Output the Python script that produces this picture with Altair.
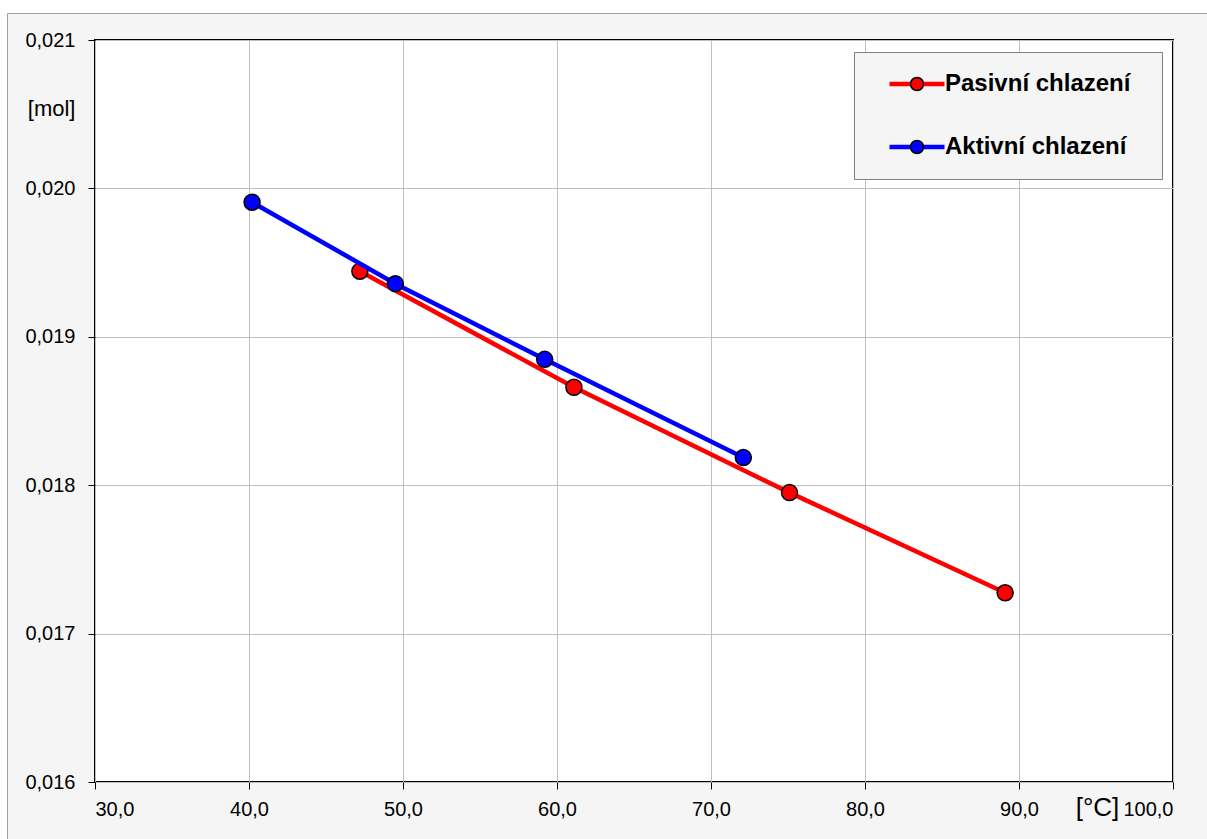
import altair as alt
import pandas as pd

# ---- data ----
series_names = ["Pasivní chlazení", "Aktivní chlazení"]
series_keys = ["p", "a"]
series_colors = ["#ff0000", "#0000ff"]

temp_pasivni = [47.2, 61.1, 75.1, 89.1]
mol_pasivni = [0.019442, 0.018660, 0.017950, 0.017275]

temp_aktivni = [40.2, 49.5, 59.2, 72.1]
mol_aktivni = [0.019907, 0.019358, 0.018848, 0.018186]

x_ticks = [30, 40, 50, 60, 70, 80, 90, 100]
y_ticks = [0.016, 0.017, 0.018, 0.019, 0.020, 0.021]

rows = []
for t, m in zip(temp_pasivni, mol_pasivni):
    rows.append({"t": t, "m": m, "series": series_names[0], "key": series_keys[0]})
for t, m in zip(temp_aktivni, mol_aktivni):
    rows.append({"t": t, "m": m, "series": series_names[1], "key": series_keys[1]})
df = pd.DataFrame(rows)

FONT = "Liberation Sans, Arial, sans-serif"
W, H = 1078, 742

x_enc = alt.X(
    "t:Q",
    scale=alt.Scale(domain=[30, 100], nice=False, zero=False),
    axis=alt.Axis(
        values=x_ticks,
        labelExpr="replace(format(datum.value, '.1f'), '.', ',')",
        title="[°C]",
        titleX=1002,
        titleY=33.5,
        titleAlign="center",
        titleBaseline="alphabetic",
        titleFontSize=26,
        titleFontWeight="normal",
        titleColor="black",
        titleFont=FONT,
        labelPadding=10,
    ),
)
y_enc = alt.Y(
    "m:Q",
    scale=alt.Scale(domain=[0.016, 0.021], nice=False, zero=False),
    axis=alt.Axis(
        values=y_ticks,
        labelExpr="replace(format(datum.value, '.3f'), '.', ',')",
        title="[mol]",
        titleAngle=0,
        titleX=-20,
        titleY=75.5,
        titleAlign="right",
        titleBaseline="alphabetic",
        titleFontSize=22,
        titleFontWeight="normal",
        titleColor="black",
        titleFont=FONT,
        labelPadding=13,
    ),
)

legend_common = dict(
    orient="none",
    legendX=759,
    legendY=12,
    symbolSize=169,
    labelFontSize=24,
    labelFontWeight="bold",
    labelFont=FONT,
    labelColor="black",
    labelLimit=400,
    padding=20,
    symbolOffset=31,
    rowPadding=39,
)

# long horizontal stroke symbol (unit path scaled by the symbol size);
# a blank right-hand title only widens the legend box a little
line_legend = alt.Legend(
    title="\u00a0",
    titleOrient="right",
    titleFontSize=1,
    titlePadding=12,
    symbolType="M-4.23,0L4.23,0",
    symbolStrokeWidth=4.5,
    symbolFillColor="transparent",
    fillColor="#f5f5f5",
    strokeColor="#808080",
    labelOffset=16,
    **legend_common,
)
# circle markers overlaid on the same legend rows (labels are blank)
point_legend = alt.Legend(
    title=None,
    symbolType="circle",
    symbolStrokeColor="black",
    symbolStrokeWidth=1.5,
    symbolOpacity=1,
    labelOffset=0,
    labelExpr="'\u00a0'",
    **legend_common,
)

color_scale = alt.Scale(domain=series_names, range=series_colors)
fill_scale = alt.Scale(domain=series_keys, range=series_colors)

base = alt.Chart(df)

def line_layer(key):
    return base.transform_filter(alt.datum.key == key).mark_line(strokeWidth=4.5).encode(
        x=x_enc, y=y_enc,
        color=alt.Color("series:N", scale=color_scale, legend=line_legend),
    )

def point_layer(key):
    return base.transform_filter(alt.datum.key == key).mark_point(
        shape="circle", filled=True, size=256, stroke="black", strokeWidth=1.5, opacity=1
    ).encode(
        x=x_enc, y=y_enc,
        fill=alt.Fill("key:N", scale=fill_scale, legend=point_legend),
    )

# decorative outer frame (white margin + thin grey border of the chart area)
deco = pd.DataFrame({"d": [0]})
white_left = alt.Chart(deco).mark_rect(fill="white").encode(
    x=alt.value(-95), x2=alt.value(-88), y=alt.value(-40), y2=alt.value(800))
white_top = alt.Chart(deco).mark_rect(fill="white").encode(
    x=alt.value(-95), x2=alt.value(1112), y=alt.value(-40), y2=alt.value(-27))
frame_v = alt.Chart(deco).mark_rule(color="#a0a0a0", strokeWidth=1).encode(
    x=alt.value(-87.5), y=alt.value(-26.5), y2=alt.value(800))
frame_h = alt.Chart(deco).mark_rule(color="#a0a0a0", strokeWidth=1).encode(
    x=alt.value(-87.5), x2=alt.value(1112), y=alt.value(-26.5))

chart = alt.layer(
    white_left, white_top, frame_v, frame_h,
    line_layer("p"), point_layer("p"),
    line_layer("a"), point_layer("a"),
).properties(
    width=W,
    height=H,
    autosize=alt.AutoSizeParams(type="none"),
    padding={"left": 95, "top": 40, "right": 34, "bottom": 57},
    background="#f5f5f5",
).configure_view(
    fill="white", stroke="black", strokeWidth=2
).configure_axis(
    labelFontSize=20,
    labelFont=FONT,
    labelColor="black",
    tickColor="black",
    tickSize=7,
    tickWidth=1,
    gridColor="#c0c0c0",
    gridWidth=1,
    domain=False,
)

chart.save("out.html", embed_options={"renderer": "svg", "actions": False})
